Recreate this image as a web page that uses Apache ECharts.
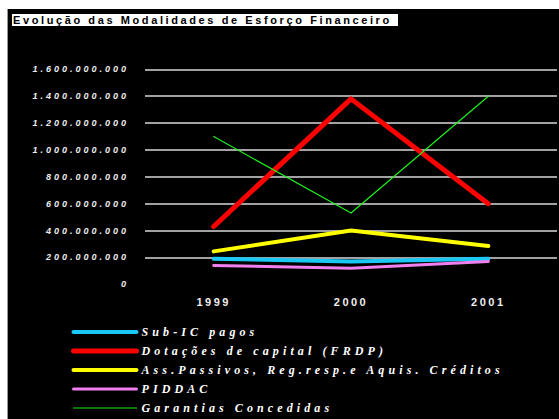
<!DOCTYPE html>
<html>
<head>
<meta charset="utf-8">
<script src="https://cdn.jsdelivr.net/npm/echarts@6/dist/echarts.min.js"></script>
<style>
	html, body { margin: 0; padding: 0; background: #fff; }
	#chart { position: absolute; left: 7px; top: 9px; width: 552px; height: 410px; background: #000; border-left: 1px solid #999; box-sizing: border-box; }
</style>
</head>
<body>
<div id="chart"></div>
<script>
var titleText = 'Evolução das Modalidades de Esforço Financeiro';
var years = ['1999', '2000', '2001'];
var seriesNames = ['Sub-IC pagos', 'Dotações de capital (FRDP)', 'Ass.Passivos, Reg.resp.e Aquis. Créditos', 'PIDDAC', 'Garantias Concedidas'];
var subIC = [190000000, 170000000, 190000000];
var dotacoes = [430000000, 1380000000, 600000000];
var assPassivos = [245000000, 400000000, 285000000];
var piddac = [140000000, 120000000, 170000000];
var garantias = [1100000000, 530000000, 1400000000];
var yTicks = { min: 0, max: 1600000000, interval: 200000000 };

var seriesData = [subIC, dotacoes, assPassivos, piddac, garantias];
var colors = ['#19c8f5', '#ff0000', '#ffff00', '#f080f0', '#1cf01c'];
var widths = [4, 5, 4, 3, 1.2];

function fmt(v) {
	return String(v).replace(/\B(?=(\d{3})+(?!\d))/g, '.');
}

var chart = echarts.init(document.getElementById('chart'), null, { renderer: 'svg' });

var series = [];
for (var i = 0; i < seriesNames.length; i++) {
	series.push({
		name: seriesNames[i],
		type: 'line',
		data: seriesData[i],
		symbol: 'none',
		color: colors[i],
		lineStyle: { color: colors[i], width: widths[i], cap: 'round', join: 'round' }
	});
}

chart.setOption({
	animation: false,
	backgroundColor: '#000',
	graphic: [{
		type: 'rect',
		left: 4, top: 5,
		shape: { width: 386, height: 12 },
		style: { fill: '#fff' }
	}, {
		type: 'text',
		left: 5, top: 5.5,
		style: { text: titleText, fill: '#000', font: 'bold 11px "Liberation Sans", Arial, sans-serif' }
	}],
	legend: {
		orient: 'vertical',
		left: 63, top: 317,
		padding: 0,
		itemWidth: 63, itemHeight: 14, itemGap: 7,
		itemStyle: { opacity: 0 },
		lineStyle: { width: 'inherit', cap: 'round' },
		textStyle: { color: '#fff', fontFamily: '"Liberation Serif", "Times New Roman", serif', fontStyle: 'italic', fontWeight: 'bold', fontSize: 12 },
		data: seriesNames
	},
	grid: { left: 137, top: 60.3, right: 2, bottom: 134.7 },
	xAxis: {
		type: 'category',
		data: years,
		boundaryGap: true,
		axisLine: { show: false },
		axisTick: { show: false },
		axisLabel: { color: '#eee', fontWeight: 'bold', fontSize: 11, fontFamily: '"Liberation Sans", Arial, sans-serif', margin: 12 }
	},
	yAxis: {
		type: 'value',
		min: yTicks.min, max: yTicks.max, interval: yTicks.interval,
		axisLine: { show: false },
		axisTick: { show: false },
		splitLine: { show: true, showMinLine: false, lineStyle: { color: '#d8d8d8', width: 1.5 } },
		axisLabel: { color: '#eee', fontWeight: 'bold', fontStyle: 'italic', fontSize: 9, fontFamily: '"Liberation Sans", Arial, sans-serif', margin: 16, formatter: fmt }
	},
	series: series
});

// spread the letters like the original
function spread() {
	var texts = document.querySelectorAll('#chart text');
	for (var i = 0; i < texts.length; i++) {
		var t = texts[i].textContent;
		var sp = 3;
		if (t === titleText) sp = 2.6;
		else if (seriesNames.indexOf(t) >= 0) sp = 4.1;
		else if (years.indexOf(t) >= 0) sp = 2.5;
		texts[i].setAttribute('letter-spacing', sp);
	}
}
chart.on('finished', spread);
spread();
setTimeout(spread, 50);
</script>
</body>
</html>
